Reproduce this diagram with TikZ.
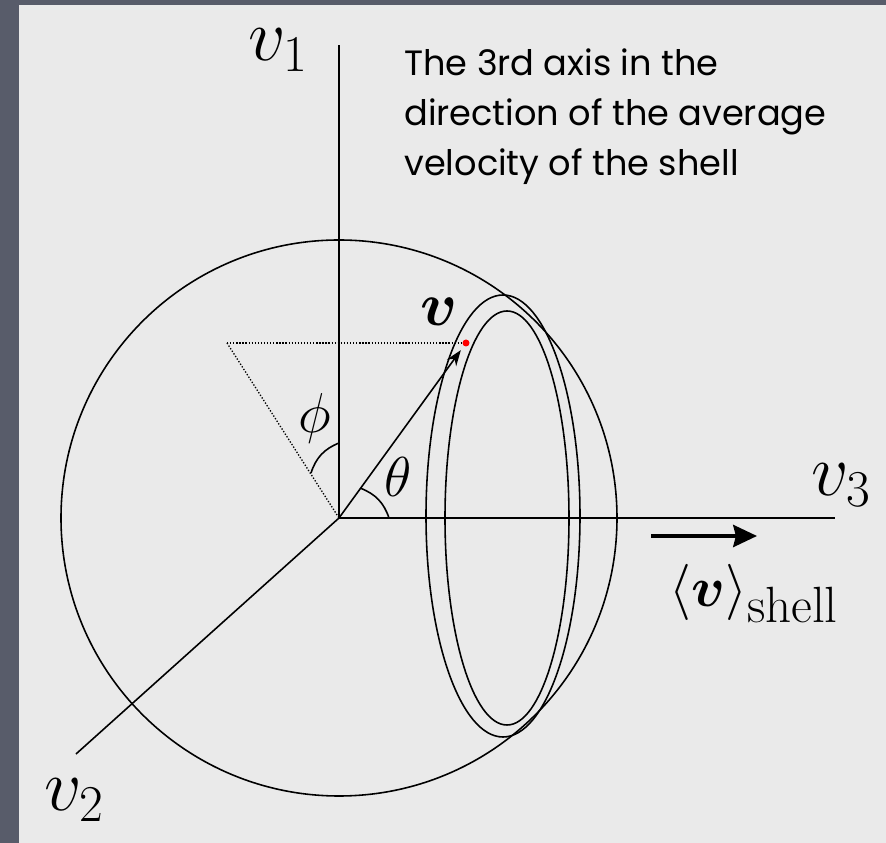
\documentclass[tikz,border=0pt]{standalone}
\usepackage{fix-cm}
\usepackage{amsmath,bm}
\usepackage{fontspec}
\newfontfamily\notefont{Poppins}
\usetikzlibrary{arrows.meta,positioning,calc}
\definecolor{slate}{RGB}{88,92,106}
\definecolor{panel}{RGB}{234,234,234}

\begin{document}
\begin{tikzpicture}[x=0.2mm, y=0.2mm,
    axis/.style={line width=0.9pt},
    guide/.style={line width=0.75pt, dash pattern=on 0.75pt off 1pt},
    ring/.style={line width=0.9pt},
    vecarrow/.style={line width=0.9pt, -{Stealth[length=9pt, width=6.5pt]}, shorten >=5},
    shellarrow/.style={line width=2.3pt, -{Stealth[length=13.5pt, width=12.5pt, inset=1.5pt]}},
    varlabel/.style={inner sep=0pt, font=\fontsize{42}{42}\selectfont},
    anglabel/.style={inner sep=0pt, font=\fontsize{32}{32}\selectfont},
    note/.style={inner sep=0pt, anchor=north west, align=left, font=\notefont\fontsize{20}{28.7}\selectfont},
]

% Frame and panel
\fill[slate] (-339,-325) rectangle (547,518);
\fill[panel] (-320,-325) rectangle (547,513);

% Axes
\coordinate (O) at (0,0);
\coordinate (e1) at (0,473);
\coordinate (e2) at (-263,-236);
\coordinate (e3) at (496,0);
\draw[axis] (O) -- (e1);
\draw[axis] (O) -- (e2);
\draw[axis] (O) -- (e3);
\node[varlabel] (l1) at (-61,468) {$v_1$};
\node[varlabel] (l2) at (-265,-282) {$v_2$};
\node[varlabel] (l3) at (502,33) {$v_3$};

% Sphere and shell rings
\draw[ring] (O) circle[radius=278];
\draw[ring] (164,2) ellipse[x radius=77, y radius=221];
\draw[ring] (168,0) ellipse[x radius=62, y radius=207];

% Velocity vector and its projection
\coordinate (P) at (127,175);
\coordinate (Q) at (-112,175);
\draw[guide] (Q) -- (P);
\draw[guide] (Q) -- (O);
\draw[vecarrow] (O) -- (P);
\fill[red] (P) circle[radius=3.5];
\node[inner sep=0pt, font=\fontsize{35}{35}\selectfont] (vlab) at (100,206) {$\boldsymbol{v}$};

% Angles
\coordinate (phiA) at (0,75);
\coordinate (phiB) at (-28,45);
\draw[axis] (phiA) to[bend right=25] (phiB);
\node[anglabel] (phi) at (-24,100) {$\phi$};
\coordinate (thA) at (50,0);
\coordinate (thB) at ($(O)!0.17!(P)$);
\draw[axis] (thA) to[bend right=25] (thB);
\node[anglabel] (theta) at (59,41) {$\theta$};

% Mean shell velocity
\coordinate (s0) at (312,-18);
\coordinate (s1) at (418,-18);
\draw[shellarrow] (s0) -- (s1);
\node[inner sep=0pt, font=\fontsize{32}{32}\selectfont] (shell) at (415,-76)
    {$\langle\boldsymbol{v}\rangle_{\hbox{\fontsize{29}{29}\selectfont shell}}$};

% Note on the 3rd axis
\node[note] (caption) at (65,470) {The 3rd axis in the\\direction of the average\\velocity of the shell};

\end{tikzpicture}
\end{document}
